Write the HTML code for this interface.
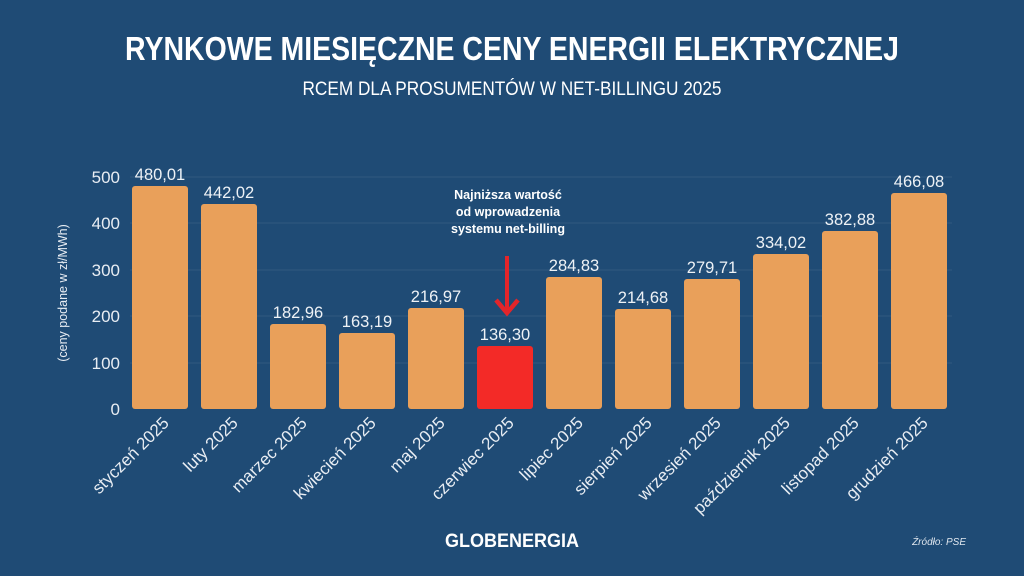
<!DOCTYPE html>
<html><head><meta charset="utf-8"><style>
html,body{margin:0;padding:0;background:#1f4b75;}
svg{display:block;font-family:"Liberation Sans","DejaVu Sans",sans-serif;}
</style></head><body>
<svg width="1024" height="576" viewBox="0 0 1024 576" xmlns="http://www.w3.org/2000/svg">
<rect width="1024" height="576" fill="#1f4b75"/>
<text x="512" y="60" text-anchor="middle" font-size="33" font-weight="bold" fill="#fff" textLength="774" lengthAdjust="spacingAndGlyphs">RYNKOWE MIESIĘCZNE CENY ENERGII ELEKTRYCZNEJ</text>
<text x="512" y="95" text-anchor="middle" font-size="19" fill="#fff" textLength="419" lengthAdjust="spacingAndGlyphs">RCEM DLA PROSUMENTÓW W NET-BILLINGU 2025</text>
<g stroke="#ffffff" stroke-opacity="0.08" stroke-width="1">
<line x1="130" x2="952" y1="177" y2="177"/><line x1="130" x2="952" y1="223" y2="223"/><line x1="130" x2="952" y1="270" y2="270"/><line x1="130" x2="952" y1="316" y2="316"/><line x1="130" x2="952" y1="363" y2="363"/>
</g>
<g font-size="17" fill="#e8edf3" text-anchor="end">
<text x="120" y="415">0</text><text x="120" y="369">100</text><text x="120" y="322">200</text><text x="120" y="276">300</text><text x="120" y="229">400</text><text x="120" y="183">500</text>
</g>
<text transform="translate(67,293) rotate(-90)" text-anchor="middle" font-size="12.5" fill="#e8edf3">(ceny podane w zł/MWh)</text>
<g font-size="16.5" fill="#eef2f6" text-anchor="middle">
<rect x="132" y="186" width="56" height="223" rx="3" fill="#e9a05a"/><text x="160" y="180">480,01</text>
<rect x="201" y="204" width="56" height="205" rx="3" fill="#e9a05a"/><text x="229" y="198">442,02</text>
<rect x="270" y="324" width="56" height="85" rx="3" fill="#e9a05a"/><text x="298" y="318">182,96</text>
<rect x="339" y="333" width="56" height="76" rx="3" fill="#e9a05a"/><text x="367" y="327">163,19</text>
<rect x="408" y="308" width="56" height="101" rx="3" fill="#e9a05a"/><text x="436" y="302">216,97</text>
<rect x="477" y="346" width="56" height="63" rx="3" fill="#f32a27"/><text x="505" y="340">136,30</text>
<rect x="546" y="277" width="56" height="132" rx="3" fill="#e9a05a"/><text x="574" y="271">284,83</text>
<rect x="615" y="309" width="56" height="100" rx="3" fill="#e9a05a"/><text x="643" y="303">214,68</text>
<rect x="684" y="279" width="56" height="130" rx="3" fill="#e9a05a"/><text x="712" y="273">279,71</text>
<rect x="753" y="254" width="56" height="155" rx="3" fill="#e9a05a"/><text x="781" y="248">334,02</text>
<rect x="822" y="231" width="56" height="178" rx="3" fill="#e9a05a"/><text x="850" y="225">382,88</text>
<rect x="891" y="193" width="56" height="216" rx="3" fill="#e9a05a"/><text x="919" y="187">466,08</text>
</g>
<g font-size="12.5" font-weight="bold" fill="#fff" text-anchor="middle">
<text x="508" y="199">Najniższa wartość</text>
<text x="508" y="216">od wprowadzenia</text>
<text x="508" y="233">systemu net-billing</text>
</g>
<line x1="507" y1="256" x2="507" y2="312" stroke="#e3252a" stroke-width="4"/>
<polyline points="496,300 507,313 518,300" fill="none" stroke="#e3252a" stroke-width="4.5"/>
<g font-size="17" fill="#e8edf3" text-anchor="end">
<text transform="translate(170,424) rotate(-45)">styczeń 2025</text>
<text transform="translate(239,424) rotate(-45)">luty 2025</text>
<text transform="translate(308,424) rotate(-45)">marzec 2025</text>
<text transform="translate(377,424) rotate(-45)">kwiecień 2025</text>
<text transform="translate(446,424) rotate(-45)">maj 2025</text>
<text transform="translate(515,424) rotate(-45)">czerwiec 2025</text>
<text transform="translate(584,424) rotate(-45)">lipiec 2025</text>
<text transform="translate(653,424) rotate(-45)">sierpień 2025</text>
<text transform="translate(722,424) rotate(-45)">wrzesień 2025</text>
<text transform="translate(791,424) rotate(-45)">październik 2025</text>
<text transform="translate(860,424) rotate(-45)">listopad 2025</text>
<text transform="translate(929,424) rotate(-45)">grudzień 2025</text>
</g>
<text x="512" y="547" text-anchor="middle" font-size="19" font-weight="bold" fill="#fff" textLength="134" lengthAdjust="spacingAndGlyphs">GLOBENERGIA</text>
<text x="966" y="545" text-anchor="end" font-size="10" font-style="italic" fill="#dfe6ee">Źródło: PSE</text>
</svg>
</body></html>
